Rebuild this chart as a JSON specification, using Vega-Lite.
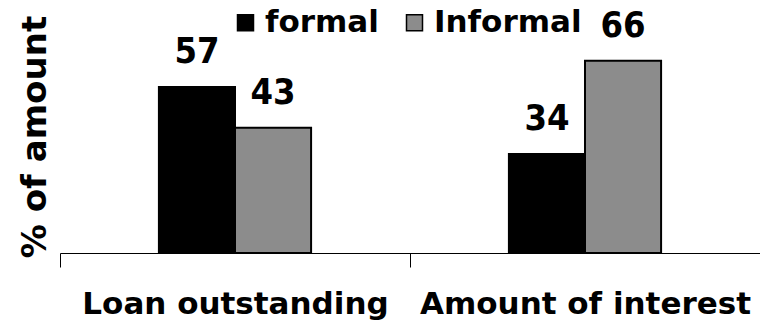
{
  "$schema": "https://vega.github.io/schema/vega-lite/v6.json",
  "autosize": "none",
  "width": 700,
  "height": 233,
  "padding": {"left": 60, "top": 20, "right": 0, "bottom": 81},
  "background": "white",
  "data": {"values": [
    {"category": "Loan outstanding", "source": "formal", "value": 57},
    {"category": "Loan outstanding", "source": "Informal", "value": 43},
    {"category": "Amount of interest", "source": "formal", "value": 34},
    {"category": "Amount of interest", "source": "Informal", "value": 66}
  ]},
  "encoding": {
    "x": {"field": "category", "type": "nominal", "sort": ["Loan outstanding", "Amount of interest"],
      "scale": {"paddingInner": 0, "paddingOuter": 0},
      "axis": {"title": null, "labelAngle": 0, "labelFont": "DejaVu Sans", "labelFontWeight": "bold", "labelFontSize": 31, "labelColor": "black", "labelPadding": 22, "labelLimit": 500, "tickBand": "extent", "tickSize": 14, "tickColor": "black", "domainColor": "black", "domainWidth": 1, "tickWidth": 1, "labelOverlap": false}},
    "xOffset": {"field": "source", "type": "nominal", "scale": {"domain": ["_left", "formal", "Informal", "_right"], "paddingInner": 0, "paddingOuter": 0.3}},
    "y": {"field": "value", "type": "quantitative", "scale": {"domain": [0, 80]},
      "axis": {"title": "% of amount", "labels": false, "ticks": false, "domain": false, "grid": false, "titleFont": "DejaVu Sans", "titleFontWeight": "bold", "titleFontSize": 34, "titleColor": "black", "titlePadding": 8}}
  },
  "layer": [
    {"mark": {"type": "bar", "stroke": "black", "strokeWidth": 2},
     "encoding": {"fill": {"field": "source", "type": "nominal",
        "scale": {"domain": ["formal", "Informal"], "range": ["#000000", "#8c8c8c"]},
        "legend": {"title": null, "orient": "none", "direction": "horizontal", "legendX": 170, "legendY": -13,
          "symbolType": "square", "symbolSize": 256, "symbolStrokeColor": "black", "symbolStrokeWidth": 1.5,
          "labelFont": "DejaVu Sans", "labelFontWeight": "bold", "labelFontSize": 31, "labelColor": "black",
          "labelOffset": 4, "columnPadding": 20, "labelLimit": 300}}}},
    {"mark": {"type": "text", "baseline": "alphabetic", "dy": -24, "font": "DejaVu Sans Condensed, Liberation Sans, sans-serif", "fontWeight": "bold", "fontSize": 36, "color": "black"},
     "encoding": {"text": {"field": "value", "type": "quantitative"}}}
  ],
  "config": {"view": {"stroke": null}}
}
